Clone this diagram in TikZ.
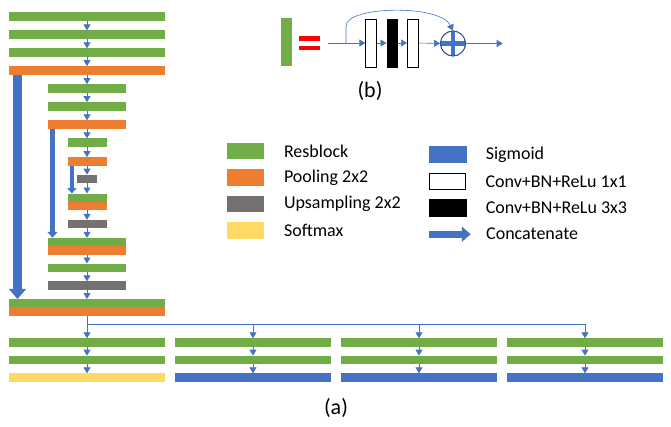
\documentclass[tikz,border=0pt]{standalone}
\usepackage{fontspec}
\setmainfont{Carlito}
\usepackage{tikz}
\usetikzlibrary{arrows.meta,positioning}
\definecolor{nGreen}{HTML}{70AD47}
\definecolor{nOrange}{HTML}{ED7D31}
\definecolor{nGray}{HTML}{767171}
\definecolor{nYellow}{HTML}{FFD966}
\definecolor{nBlue}{HTML}{4472C4}
\definecolor{nDark}{HTML}{2F528F}
\definecolor{nRed}{HTML}{FF0000}
\tikzset{
  bar/.style={rectangle, inner sep=0pt, outer sep=0pt, minimum height=8.4},
  resblock/.style={bar, fill=nGreen},
  pooling/.style={bar, fill=nOrange},
  upsamp/.style={bar, fill=nGray},
  softmax/.style={bar, fill=nYellow},
  sigmoid/.style={bar, fill=nBlue},
  wA/.style={minimum width=156},
  wB/.style={minimum width=78},
  wC/.style={minimum width=39},
  wD/.style={minimum width=19.4},
  swatch/.style={rectangle, inner sep=0pt, outer sep=0pt, minimum width=37, minimum height=16.6},
  convone/.style={rectangle, draw=black, thick, fill=white, inner sep=0pt, minimum width=10.6, minimum height=48.4},
  convthree/.style={rectangle, draw=black, thick, fill=black, inner sep=0pt, minimum width=10.6, minimum height=48.4},
  flow/.style={-{Triangle[width=7,length=6]}, line width=0.8pt, nBlue},
  link/.style={line width=0.8pt, nBlue},
  concat/.style={-{Triangle[width=#1*2,length=#1*1.2]}, line width=#1, nBlue},
  legtext/.style={font=\fontsize{18}{22}\selectfont, inner sep=0pt, anchor=west},
  caption/.style={font=\fontsize{22}{26}\selectfont, inner sep=0pt}
}
\begin{document}
\begin{tikzpicture}[x=1pt,y=-1pt]
  \useasboundingbox (0,0) rectangle (671,426);

  % (a) encoder / decoder column
  \node[resblock, wA] (r1) at (87,16.3) {};
  \node[resblock, wA] (r2) at (87,34.5) {};
  \node[resblock, wA] (r3) at (87,52.5) {};
  \node[pooling, wA] (p1) at (87,70.3) {};
  \node[resblock, wB] (r4) at (87,88.3) {};
  \node[resblock, wB] (r5) at (87,106.3) {};
  \node[pooling, wB] (p2) at (87,124.5) {};
  \node[resblock, wC] (r6) at (87,142.5) {};
  \node[pooling, wC] (p3) at (87,161.3) {};
  \node[upsamp, wD] (u1) at (87,178.8) {};
  \node[resblock, wC] (r7) at (87,197.7) {};
  \node[pooling, wC, below=0 of r7] (p4) {};
  \node[upsamp, wC] (u2) at (87,224) {};
  \node[resblock, wB] (r8) at (87,242) {};
  \node[pooling, wB, below=0 of r8] (p5) {};
  \node[resblock, wB] (r9) at (87,267.7) {};
  \node[upsamp, wB] (u3) at (87,285.5) {};
  \node[resblock, wA] (r10) at (87,303.2) {};
  \node[pooling, wA, below=0 of r10] (p6) {};

  \draw[flow] (r1) -- (r2);
  \draw[flow] (r2) -- (r3);
  \draw[flow] (r3) -- (p1);
  \draw[flow] (p1) -- (r4);
  \draw[flow] (r4) -- (r5);
  \draw[flow] (r5) -- (p2);
  \draw[flow] (p2) -- (r6);
  \draw[flow] (r6) -- (p3);
  \draw[flow] (p3) -- (u1);
  \draw[flow] (u1) -- (r7);
  \draw[flow] (p4) -- (u2);
  \draw[flow] (u2) -- (r8);
  \draw[flow] (p5) -- (r9);
  \draw[flow] (r9) -- (u3);
  \draw[flow] (u3) -- (r10);

  % concatenations
  \draw[concat=8.4] ([xshift=8.5pt]p1.south west) -- ([xshift=8.5pt]r10.north west);
  \draw[concat=5] ([xshift=4.5pt]p2.south west) -- ([xshift=4.5pt]r8.north west);
  \draw[concat=4.4] ([xshift=4.4pt]p3.south west) -- ([xshift=4.4pt]r7.north west);

  % output heads
  \node[resblock, wA] (h1a) at (87,342.5) {};
  \node[resblock, wA] (h1b) at (87,359.8) {};
  \node[softmax, wA] (h1c) at (87,377.5) {};
  \node[resblock, wA] (h2a) at (253,342.5) {};
  \node[resblock, wA] (h2b) at (253,359.8) {};
  \node[sigmoid, wA] (h2c) at (253,377.5) {};
  \node[resblock, wA] (h3a) at (419,342.5) {};
  \node[resblock, wA] (h3b) at (419,359.8) {};
  \node[sigmoid, wA] (h3c) at (419,377.5) {};
  \node[resblock, wA] (h4a) at (585,342.5) {};
  \node[resblock, wA] (h4b) at (585,359.8) {};
  \node[sigmoid, wA] (h4c) at (585,377.5) {};

  \coordinate (j) at (87,324);
  \draw[link] (p6.south) -- (j) -- (h4a.north |- j);
  \draw[flow] (j) -- (h1a);
  \draw[flow] (h2a.north |- j) -- (h2a);
  \draw[flow] (h3a.north |- j) -- (h3a);
  \draw[flow] (h4a.north |- j) -- (h4a);
  \draw[flow] (h1a) -- (h1b);
  \draw[flow] (h1b) -- (h1c);
  \draw[flow] (h2a) -- (h2b);
  \draw[flow] (h2b) -- (h2c);
  \draw[flow] (h3a) -- (h3b);
  \draw[flow] (h3b) -- (h3c);
  \draw[flow] (h4a) -- (h4b);
  \draw[flow] (h4b) -- (h4c);

  \node[caption] (capa) at (336,408) {(a)};

  % legend
  \node[swatch, fill=nGreen] (lg1) at (245.8,151) {};
  \node[swatch, fill=nOrange] (lg2) at (245.8,177.5) {};
  \node[swatch, fill=nGray] (lg3) at (245.8,204) {};
  \node[swatch, fill=nYellow] (lg4) at (245.8,230.7) {};
  \node[legtext, right=19.5pt of lg1] {Resblock};
  \node[legtext, right=19.5pt of lg2] {Pooling 2x2};
  \node[legtext, right=19.5pt of lg3] {Upsampling 2x2};
  \node[legtext, right=19.5pt of lg4] {Softmax};

  \node[swatch, fill=nBlue, minimum width=37.7] (lg5) at (447.8,154.3) {};
  \node[swatch, draw=black, thick, fill=white, minimum width=36, minimum height=16] (lg6) at (447.8,181.5) {};
  \node[swatch, fill=black, minimum width=37.7, minimum height=17.7] (lg7) at (447.8,207.8) {};
  \coordinate (lg8) at (447.8,234.2);
  \draw[concat=7.3] ([xshift=-18.8pt]lg8) -- ([xshift=22.9pt]lg8);
  \node[legtext, right=19pt of lg5] {Sigmoid};
  \node[legtext, right=19.5pt of lg6] {Conv+BN+ReLu 1x1};
  \node[legtext, right=19pt of lg7] {Conv+BN+ReLu 3x3};
  \node[legtext] at (486,234.2) {Concatenate};

  % (b) resblock
  \node[rectangle, fill=nGreen, inner sep=0pt, minimum width=11.3, minimum height=47.4] (blk) at (286.7,42) {};
  \node[rectangle, fill=nRed, inner sep=0pt, minimum width=20.7, minimum height=4.7] (eqa) at (309.7,38.3) {};
  \node[rectangle, fill=nRed, inner sep=0pt, minimum width=20.7, minimum height=4.4] (eqb) at (309.7,47.9) {};
  \coordinate (in) at (328.3,43);
  \coordinate (split) at (346,43);
  \node[convone] (c1) at (371,43.5) {};
  \node[convthree] (c2) at (392.2,43.5) {};
  \node[convone] (c3) at (412.7,43.5) {};
  \node[circle, draw=nDark, thick, fill=white, minimum size=25, inner sep=0pt] (add) at (453,43.5) {};
  \draw[nBlue, line width=4.5pt] (add.north) -- (add.south) (add.west) -- (add.east);
  \draw[nDark, thick] (add) circle[radius=12.5];
  \coordinate (out) at (502.7,43.5);

  \draw[flow, line width=0.6pt] (in) -- (c1.west |- in);
  \draw[flow, line width=0.6pt] (c1.east |- in) -- (c2.west |- in);
  \draw[flow, line width=0.6pt] (c2.east |- in) -- (c3.west |- in);
  \draw[flow, line width=0.6pt] (c3.east |- in) -- (add.west);
  \draw[flow, line width=0.6pt] (add.east) -- (out);
  \draw[flow, line width=0.6pt] (split) -- (346,26) .. controls (346,6) and (440,4) .. (add.north);

  \node[caption] (capb) at (370,91) {(b)};
\end{tikzpicture}
\end{document}
